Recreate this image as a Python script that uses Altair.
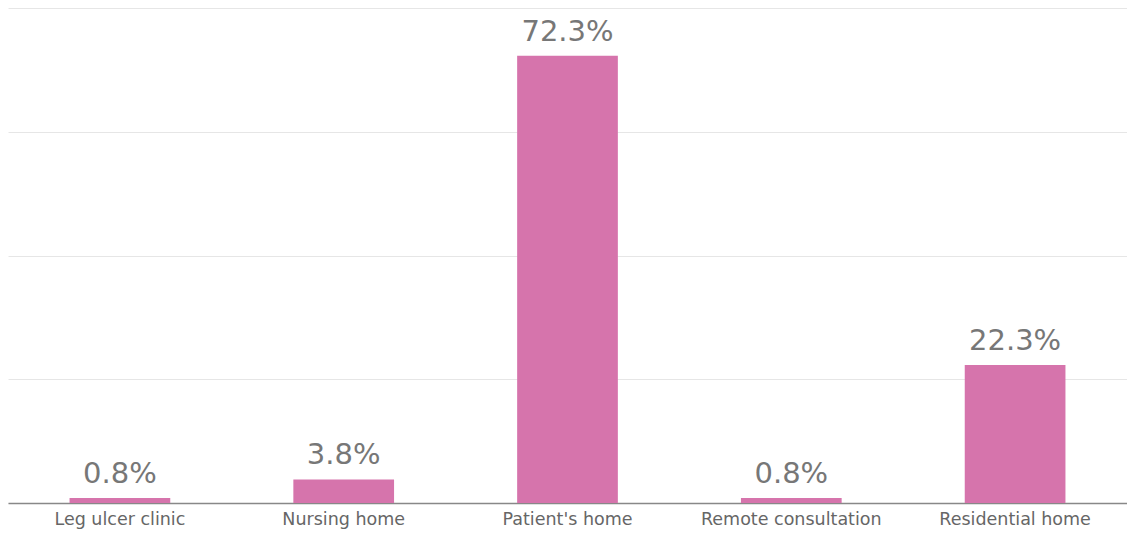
import altair as alt
import pandas as pd

categories = ["Leg ulcer clinic", "Nursing home", "Patient's home", "Remote consultation", "Residential home"]
values = [0.8, 3.8, 72.3, 0.8, 22.3]
labels = ["0.8%", "3.8%", "72.3%", "0.8%", "22.3%"]

df = pd.DataFrame({"category": categories, "value": values, "label": labels})

x = alt.X("category:N", sort=categories, title=None,
          scale=alt.Scale(paddingInner=0.55, paddingOuter=0.275),
          axis=alt.Axis(labelAngle=0, labelFontSize=17.5, labelColor="#666666",
                        labelFont="DejaVu Sans", labelPadding=7, labelLimit=400,
                        domainColor="#888888", domainWidth=1.5, ticks=False, grid=False))
y = alt.Y("value:Q", title=None,
          scale=alt.Scale(domain=[0, 80], nice=False),
          axis=alt.Axis(values=[0, 20, 40, 60, 80], labels=False, ticks=False, domain=False,
                        grid=True, gridColor="#e6e6e6", gridWidth=1))

bars = alt.Chart(df).mark_bar(color="#D674AC").encode(x=x, y=y)
text = alt.Chart(df).mark_text(baseline="bottom", dy=-9, fontSize=29, font="DejaVu Sans",
                               color="#777777").encode(x=x, y=y, text="label:N")

chart = (bars + text).properties(width=1119, height=495).configure(
    padding={"left": 0, "top": 0, "right": 0, "bottom": 6}).configure_view(stroke=None)
chart.save("out.html", embed_options={"renderer": "svg", "actions": False})
